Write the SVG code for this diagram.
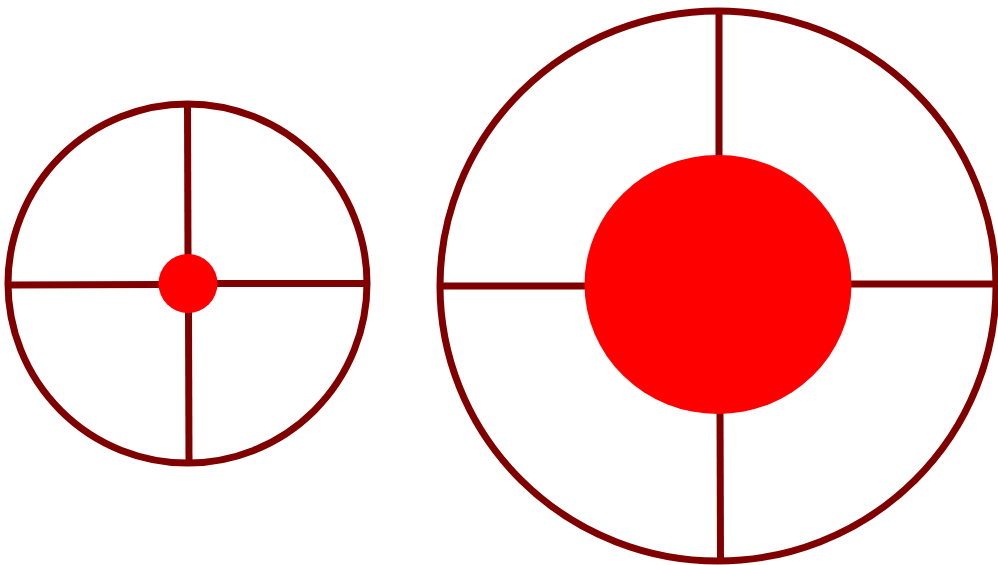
<svg xmlns="http://www.w3.org/2000/svg" width="998" height="565" viewBox="0 0 998 565">
<style>
.ring{fill:none;stroke:#800000;stroke-width:7}
.spoke{stroke:#800000;stroke-width:7;fill:none}
.core{fill:#ff0000;stroke:none}
</style>
<rect width="998" height="565" fill="#ffffff"/>
<g id="small-target">
<circle class="ring" cx="187.5" cy="283.5" r="179.5"/>
<line class="spoke" x1="8" y1="285" x2="162" y2="284.5"/>
<line class="spoke" x1="214" y1="283.5" x2="367" y2="283.5"/>
<line class="spoke" x1="187.5" y1="104" x2="188" y2="256"/>
<line class="spoke" x1="188.5" y1="310" x2="189" y2="463"/>
<circle class="core" cx="188" cy="283.5" r="29.5"/>
</g>
<g id="large-target">
<ellipse class="ring" cx="718" cy="286" rx="278" ry="275"/>
<line class="spoke" x1="440" y1="286" x2="588" y2="286"/>
<line class="spoke" x1="848" y1="284" x2="998" y2="284"/>
<line class="spoke" x1="719" y1="10" x2="719" y2="158"/>
<line class="spoke" x1="720" y1="410" x2="720.5" y2="562"/>
<ellipse class="core" cx="718" cy="284.5" rx="133.5" ry="129.5"/>
</g>
</svg>
